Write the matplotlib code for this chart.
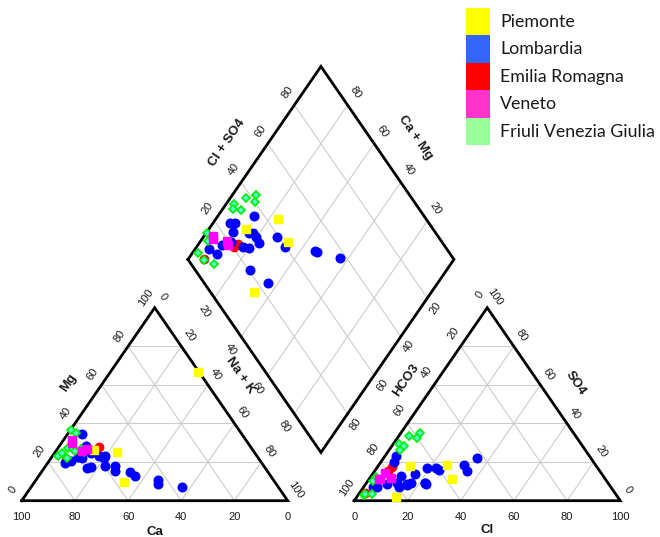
import numpy as np
import matplotlib.pyplot as plt
from matplotlib.patches import Rectangle

# --- data (percent of meq) ---
# Piemonte
piemonte_ca = [59.7, 51.6, 0.3, 56.8]
piemonte_mg = [26.3, 25.1, 66.5, 9.8]
piemonte_cl = [11.8, 25.9, 31.1, 14.6]
piemonte_so4 = [18.0, 18.3, 11.1, 1.9]

# Lombardia
lombardia_ca = [60, 74, 71, 65.5, 67.5, 61.5, 66.5, 61.5, 67, 59.5, 65,
                57, 58, 56, 57, 52, 51, 43.5, 44.5, 36, 59.5]
lombardia_mg = [34.5, 19.7, 20.7, 25.4, 22.8, 28.5, 22.0, 24.9, 17.1, 23.2, 17.6,
                23.2, 22.0, 18.1, 15.5, 14.7, 13.0, 10.7, 8.7, 7.3, 18.1]
lombardia_cl = [3.8, 4.9, 4.0, 8.0, 5.1, 11.2, 11.4, 19.0, 16.1, 15.7, 22.0,
                16.6, 22.9, 13.5, 22.3, 24.1, 15.5, 34.6, 32.1, 35.0, 22.0]
lombardia_so4 = [6.9, 20.2, 23.3, 8.7, 7.3, 12.8, 9.3, 17.1, 13.7, 8.1, 9.3,
                 9.3, 8.5, 6.9, 16.8, 15.9, 8.5, 15.5, 18.5, 22.3, 9.0]

# Emilia Romagna
emilia_ca = [57.2, 72.5, 61]
emilia_mg = [27.7, 21.5, 25]
emilia_cl = [5.2, 2.1, 5.1]
emilia_so4 = [17.7, 4.0, 15.4]

# Veneto
veneto_ca = [65.2, 66.1, 64.2, 62.1]
veneto_mg = [31.5, 29.7, 25.9, 26.6]
veneto_cl = [4.1, 3.6, 8.1, 4.3]
veneto_so4 = [11.2, 11.1, 11.6, 14.4]

# Friuli Venezia Giulia
friuli_ca = [63.2, 74.7, 72.5, 61.8, 69.0, 67.6, 71.9, 67, 64.2, 63.7, 64.1]
friuli_mg = [36.6, 23.2, 24.9, 35.2, 27.1, 26.6, 22, 26, 27, 26, 25]
friuli_cl = [2.0, 2.3, 1.9, 2.4, 3.9, 4.0, 2.4, 4.3, 7.3, 7.3, 5.0]
friuli_so4 = [12.1, 3.0, 10.2, 29.2, 26.3, 33.5, 3.5, 28.5, 34.9, 32.6, 3.5]

regions = ['Piemonte', 'Lombardia', 'Emilia Romagna', 'Veneto', 'Friuli Venezia Giulia']
legend_colors = ['#FFFF00', '#3366FF', '#FF0000', '#FF33CC', '#99FF99']
ticks = [0, 20, 40, 60, 80, 100]

# --- geometry ---
GAP = 25
S3 = np.sqrt(3) / 2
H = 100 * S3
B = np.array([100 + GAP / 2, GAP / 2 * np.sqrt(3)])
L = B + np.array([-50, H])
T = B + np.array([0, 2 * H])
R = B + np.array([50, H])


def left_xy(ca, mg):
    ca = np.asarray(ca, float)
    mg = np.asarray(mg, float)
    na = 100 - ca - mg
    return na + mg / 2, mg * S3


def right_xy(cl, so4):
    cl = np.asarray(cl, float)
    so4 = np.asarray(so4, float)
    return 100 + GAP + cl + so4 / 2, so4 * S3


def diamond_xy(ca, mg, cl, so4):
    c = (100 - np.asarray(ca, float) - np.asarray(mg, float)) / 100
    a = (np.asarray(cl, float) + np.asarray(so4, float)) / 100
    p = L[:, None] + np.outer(B - L, c) + np.outer(T - L, a)
    return p[0], p[1]


plt.rcParams['font.family'] = ['Liberation Sans', 'DejaVu Sans']
fig = plt.figure(figsize=(6.6, 5.37), dpi=100)
ax = fig.add_axes([0, 0, 1, 1])
sx, sy = 2.66, 2.2286
ax.set_xlim(-21.7 / sx, (660 - 21.7) / sx)
ax.set_ylim((500.7 - 537) / sy, 500.7 / sy)
ax.axis('off')
ang = np.degrees(np.arctan2(H * sy, 50 * sx))

grid_kw = dict(color='#cccccc', lw=0.8, zorder=1)
edge_kw = dict(color='black', lw=2.0, zorder=2, solid_joinstyle='miter')

# triangles
for x0 in [0, 100 + GAP]:
    v = np.array([[x0, 0], [x0 + 100, 0], [x0 + 50, H], [x0, 0]])
    for k in [20, 40, 60, 80]:
        f = k / 100
        ax.plot([x0 + 50 * f, x0 + 100 - 50 * f], [H * f, H * f], **grid_kw)
        ax.plot([x0 + k, x0 + 50 + k / 2], [0, H * (1 - f)], **grid_kw)
        ax.plot([x0 + k, x0 + k / 2], [0, H * f], **grid_kw)
    ax.plot(v[:, 0], v[:, 1], **edge_kw)

# diamond
for k in [20, 40, 60, 80]:
    f = k / 100
    p0, p1 = L + f * (B - L), T + f * (R - T)
    ax.plot([p0[0], p1[0]], [p0[1], p1[1]], **grid_kw)
    p0, p1 = L + f * (T - L), B + f * (R - B)
    ax.plot([p0[0], p1[0]], [p0[1], p1[1]], **grid_kw)
d = np.array([L, T, R, B, L])
ax.plot(d[:, 0], d[:, 1], **edge_kw)


def lab(p, s, dx, dy, rot=0, size=8, weight='normal'):
    ax.annotate(s, xy=p, xytext=(dx * 0.72, -dy * 0.72), textcoords='offset points',
                ha='center', va='center', rotation=rot, rotation_mode='anchor',
                fontsize=size, fontweight=weight, color='#1a1a1a')


for k in ticks:
    f = k / 100
    # left triangle
    lab((100 - k, 0), str(k), 0, 16)
    lab((50 * f, H * f), str(k), -9, -10.5, ang)
    lab((50 + 50 * f, H * (1 - f)), str(k), 8, -11, -ang)
    # right triangle
    x0 = 100 + GAP
    lab((x0 + k, 0), str(k), 0, 16)
    lab((x0 + 50 * (1 - f), H * (1 - f)), str(k), -7.5, -13, ang)
    lab((x0 + 100 - 50 * f, H * f), str(k), 8, -10.5, -ang)
    if 0 < k < 100:
        lab(tuple(L + f * (T - L)), str(k), -7, -12.5, ang)
        lab(tuple(T + (1 - f) * (R - T)), str(k), 8, -12.5, -ang)
        lab(tuple(L + f * (B - L)), str(k), -10, 13, -ang)
        lab(tuple(B + (1 - f) * (R - B)), str(k), 8, 10, ang)

tk = dict(size=9.5, weight='bold')
lab((50, 0), 'Ca', 0, 31, **tk)
lab((175, 0), 'Cl', 0, 29.5, **tk)
lab((25, H / 2), 'Mg', -20, -21, ang, **tk)
lab((75, H / 2), 'Na + K', 19, -29, -ang, **tk)
lab((150, H / 2), 'HCO3', -15, -24, ang, **tk)
lab((200, H / 2), 'SO4', 22, -21, -ang, **tk)
lab(tuple((L + T) / 2), 'Cl + SO4', -27, -20, ang, **tk)
lab(tuple((T + R) / 2), 'Ca + Mg', 27.5, -25, -ang, **tk)

# samples
series = [
    (emilia_ca, emilia_mg, emilia_cl, emilia_so4,
     dict(marker='o', ms=6, color='#ff0000', mec='#ff0000')),
    (lombardia_ca, lombardia_mg, lombardia_cl, lombardia_so4,
     dict(marker='o', ms=6.2, color='#0000ff', mec='#0000ff')),
    (friuli_ca, friuli_mg, friuli_cl, friuli_so4,
     dict(marker='D', ms=4, color='#55ffcc', mec='#00ee00', mew=1.2)),
    (piemonte_ca, piemonte_mg, piemonte_cl, piemonte_so4,
     dict(marker='s', ms=5.5, color='#ffff00', mec='#ffff00')),
    (veneto_ca, veneto_mg, veneto_cl, veneto_so4,
     dict(marker='s', ms=5.8, color='#ff00ff', mec='#ff00ff')),
]
for ca, mg, cl, so4, st in series:
    for xy in (left_xy(ca, mg), right_xy(cl, so4), diamond_xy(ca, mg, cl, so4)):
        ax.plot(xy[0], xy[1], ls='none', zorder=3, **st)

# legend
W, Hf = 660, 537
for i, (name, col) in enumerate(zip(regions, legend_colors)):
    y = 8 + i * 27.4
    fig.add_artist(Rectangle((466 / W, 1 - (y + 27.4) / Hf), 24 / W, 27.4 / Hf,
                             transform=fig.transFigure, color=col, lw=0))
    fig.text(500 / W, 1 - (y + 14) / Hf, name, fontsize=12.8, family=['Lato', 'DejaVu Sans'],
             va='center', ha='left', color='#1a1a1a')

fig.savefig('out.png', dpi=100)
